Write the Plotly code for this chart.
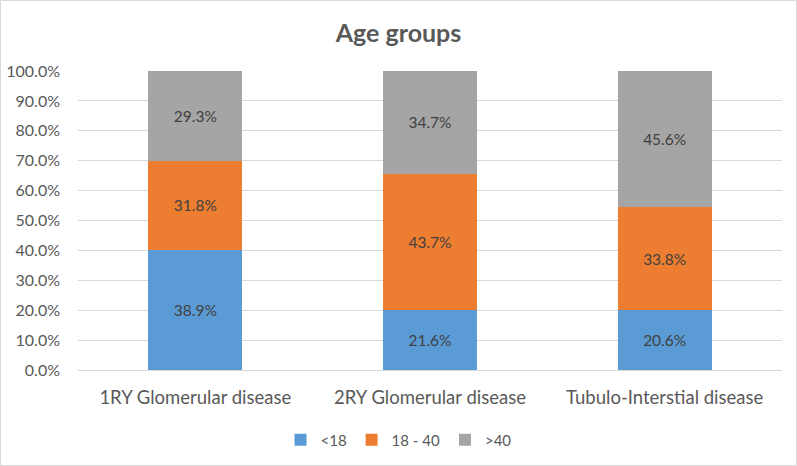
import plotly.graph_objects as go

categories = ["1RY Glomerular disease", "2RY Glomerular disease", "Tubulo-Interstial disease"]
series_names = ["<18", "18 - 40", ">40"]
# segment heights as drawn in the picture (percent)
under18 = [40.1, 20.0, 20.0]
age18_40 = [29.9, 45.6, 34.5]
over40 = [30.0, 34.4, 45.5]
# data labels as printed on the bars
under18_labels = ["38.9%", "21.6%", "20.6%"]
age18_40_labels = ["31.8%", "43.7%", "33.8%"]
over40_labels = ["29.3%", "34.7%", "45.6%"]
colors = ["#5B9BD5", "#ED7D31", "#A5A5A5"]
tick_vals = [0, 10, 20, 30, 40, 50, 60, 70, 80, 90, 100]
tick_text = [f"{v:.1f}%" for v in tick_vals]

FONT = "Lato, Open Sans, sans-serif"
W, H = 797, 466
L, R, T, B = 78, 15, 71, 96

fig = go.Figure()
for name, vals, labels, col in zip(series_names,
                                   [under18, age18_40, over40],
                                   [under18_labels, age18_40_labels, over40_labels],
                                   colors):
    fig.add_trace(go.Bar(
        x=categories, y=vals, name=name, marker_color=col,
        marker_line_width=0,
        text=labels, textposition="inside",
        insidetextanchor="middle",
        textfont=dict(family=FONT, size=15.5, color="#404040"),
        hoverinfo="skip",
    ))

pw = W - L - R
ph = H - T - B
fig.add_shape(type="rect", xref="paper", yref="paper",
              x0=(0.5 - L) / pw, x1=(W - 0.5 - L) / pw,
              y0=(H - B - (H - 0.5)) / ph, y1=(H - B - 0.5) / ph,
              line=dict(color="#D9D9D9", width=1), layer="below")

fig.update_layout(
    width=W, height=H, barmode="stack", bargap=0.6,
    margin=dict(l=L, r=R, t=T, b=B, autoexpand=False),
    paper_bgcolor="white", plot_bgcolor="white",
    title=dict(text="<b>Age groups</b>", x=0.5, xref="container", xanchor="center",
               y=1 - 33 / H, yref="container", yanchor="middle",
               font=dict(family=FONT, size=25, color="#595959")),
    legend=dict(orientation="h", x=0.5, xref="container", xanchor="center",
                y=1 - 440 / H, yref="container", yanchor="middle",
                font=dict(family=FONT, size=15, color="#595959"),
                itemwidth=30, traceorder="normal"),
    font=dict(family=FONT, color="#595959"),
)
fig.update_xaxes(showline=False, showgrid=False, ticks="", automargin=False,
                 tickfont=dict(family=FONT, size=18.5, color="#595959"),
                 ticklabelstandoff=14)
fig.update_yaxes(range=[0, 100], tickvals=tick_vals, ticktext=tick_text,
                 showgrid=True, gridcolor="#D9D9D9", gridwidth=1,
                 zeroline=True, zerolinecolor="#D9D9D9", zerolinewidth=1,
                 tickfont=dict(family=FONT, size=16, color="#595959"),
                 ticks="", ticklabelstandoff=17, automargin=False)

fig.write_html("out.html")
